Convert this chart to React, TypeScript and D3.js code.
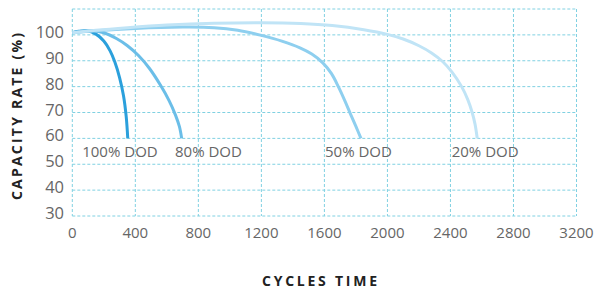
import React from "react";
import * as d3 from "d3";

type Pt = [number, number];

// cycles vs capacity (%)
const dod100: Pt[] = [[0, 100.8], [40, 101.4], [90, 101.6], [150, 100.3], [200, 97.6], [240, 93.8], [270, 89.5], [300, 83.5], [325, 76.5], [342, 68.5], [352, 60]];
const dod80: Pt[] = [[0, 100.8], [60, 101.4], [130, 101.6], [200, 100.8], [280, 98.6], [350, 95.8], [420, 92], [490, 87], [560, 80.5], [615, 74.5], [655, 69], [680, 64.5], [694, 60]];
const dod50: Pt[] = [[0, 100.8], [150, 101.6], [400, 102.5], [700, 103], [900, 102.8], [1050, 101.8], [1200, 99.8], [1330, 97.6], [1445, 95], [1520, 92.6], [1590, 89.2], [1645, 85], [1690, 79.8], [1730, 74.5], [1765, 69.5], [1800, 64.6], [1832, 60]];
const dod20: Pt[] = [[0, 100.8], [150, 101.8], [350, 102.8], [600, 103.8], [900, 104.5], [1200, 104.7], [1450, 104.4], [1650, 103.6], [1850, 102], [2000, 100.2], [2100, 98.4], [2200, 95.8], [2280, 93], [2350, 89.7], [2410, 85.6], [2471, 80], [2510, 75], [2537, 70.2], [2556, 65.5], [2570, 60]];

const seriesNames = ["100% DOD", "80% DOD", "50% DOD", "20% DOD"];
const seriesData = [dod100, dod80, dod50, dod20];
const seriesColors = ["#2ba0dc", "#6bbee8", "#8ecfef", "#c0e4f6"];
const labelCycles = [63, 652, 1604, 2408];
const labelValue = 52.8;

const xTicks = [0, 400, 800, 1200, 1600, 2000, 2400, 2800, 3200];
const yTicks = [30, 40, 50, 60, 70, 80, 90, 100];
const yGrid = [30, 40, 50, 60, 70, 80, 90, 100, 110];

const W = 600;
const H = 293;
const gridColor = "#80d1e2";
const font = "'Open Sans', sans-serif";

export default function App() {
  const x = d3.scaleLinear().domain([0, 3200]).range([72.3, 576.5]);
  const y = d3.scaleLinear().domain([30, 110]).range([216, 9]);
  const line = d3
    .line<Pt>()
    .x((d) => x(d[0]))
    .y((d) => y(d[1]))
    .curve(d3.curveCatmullRom.alpha(0.5));

  return (
    <div style={{ position: "absolute", left: 0, top: 0 }}>
      <svg width={W} height={H} style={{ display: "block", background: "#fff" }}>
        {/* grid */}
        {yGrid.map((v) => (
          <line key={"h" + v} x1={x(0)} x2={x(3200)} y1={y(v)} y2={y(v)}
            stroke={gridColor} strokeWidth={1} strokeDasharray="3,2" />
        ))}
        {xTicks.map((v) => (
          <line key={"v" + v} x1={x(v)} x2={x(v)} y1={y(110)} y2={y(30)}
            stroke={gridColor} strokeWidth={1} strokeDasharray="3,2" />
        ))}

        {/* curves */}
        {seriesData.map((d, i) => (
          <path key={seriesNames[i]} d={line(d) || ""} fill="none"
            stroke={seriesColors[i]} strokeWidth={3} strokeLinecap="butt" />
        ))}

        {/* series labels */}
        {seriesNames.map((n, i) => (
          <text key={"l" + n} x={x(labelCycles[i])} y={y(labelValue)}
            fontFamily={font} fontSize={15} fill="#666">{n}</text>
        ))}

        {/* y ticks */}
        {yTicks.map((v) => (
          <text key={"yt" + v} x={64} y={y(v) + 3} textAnchor="end"
            fontFamily={font} fontSize={16.5} fill="#666">{v}</text>
        ))}
        {/* x ticks */}
        {xTicks.map((v) => (
          <text key={"xt" + v} x={x(v)} y={237.5} textAnchor="middle"
            fontFamily={font} fontSize={15} fill="#666">{v}</text>
        ))}

        {/* axis titles */}
        <text transform="translate(21.5,116.5) rotate(-90)" textAnchor="middle"
          fontFamily={font} fontSize={14} fontWeight="bold" fill="#222"
          textLength={167} lengthAdjust="spacing">CAPACITY RATE (%)</text>
        <text x={319.5} y={285.5} textAnchor="middle"
          fontFamily={font} fontSize={14} fontWeight="bold" fill="#222"
          textLength={115} lengthAdjust="spacing">CYCLES TIME</text>
      </svg>
    </div>
  );
}
